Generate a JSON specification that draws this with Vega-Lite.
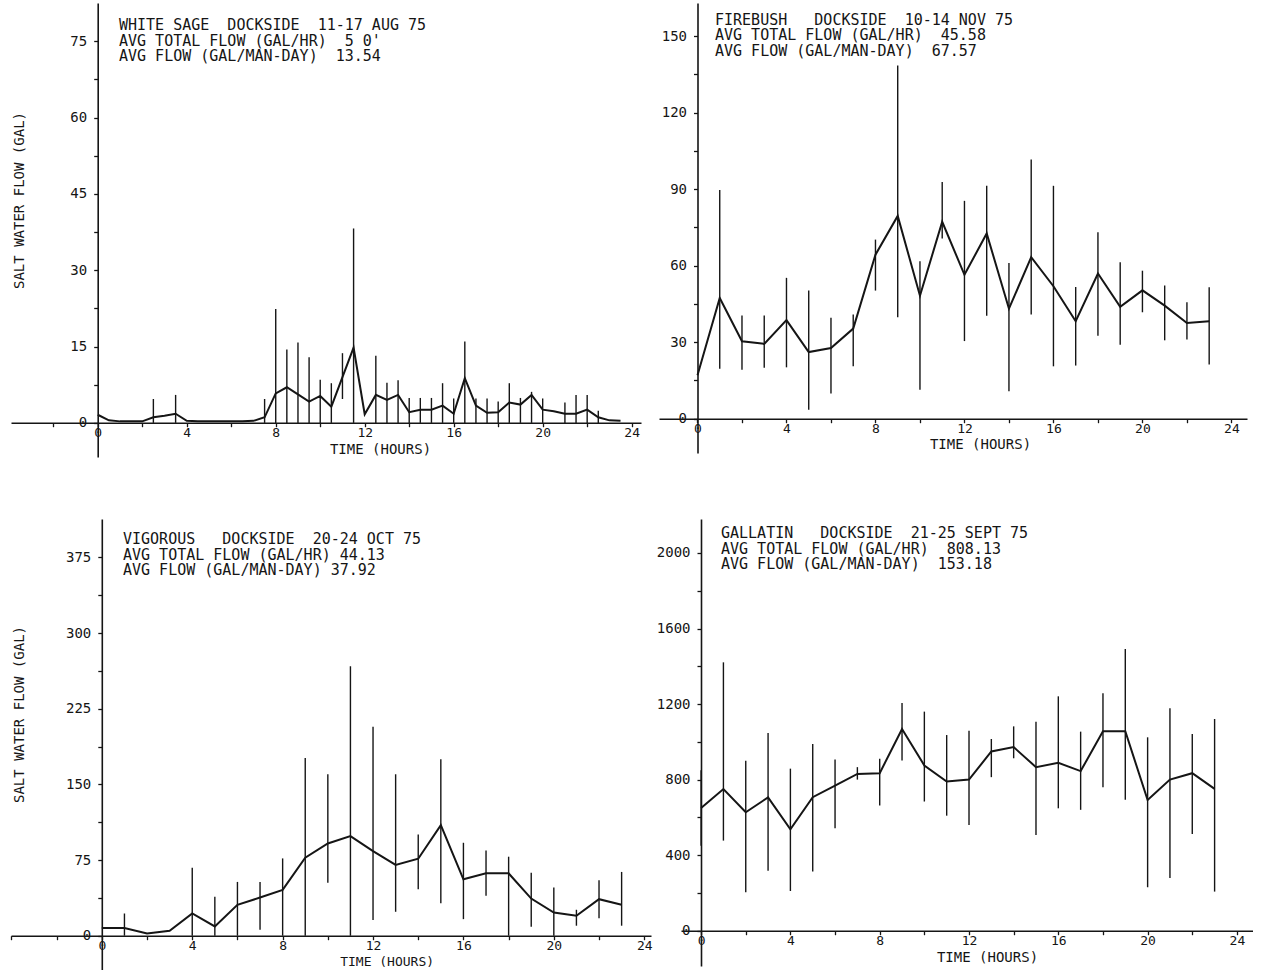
{
  "$schema": "https://vega.github.io/schema/vega-lite/v6.json",
  "padding": {"left": 10, "top": 3, "right": 0, "bottom": 0},
  "background": "white",
  "config": {
    "view": {"stroke": null},
    "font": "DejaVu Sans Mono",
    "axis": {
      "grid": false,
      "domainColor": "#151515",
      "domainWidth": 1.6,
      "tickColor": "#151515",
      "tickWidth": 1.3,
      "tickSize": 4,
      "labelFont": "DejaVu Sans Mono",
      "labelFontSize": 14,
      "labelPadding": 7,
      "labelColor": "#151515",
      "labelFlush": false,
      "labelOverlap": false,
      "labelBound": false,
      "titleFont": "DejaVu Sans Mono",
      "titleFontSize": 14,
      "titleFontWeight": "normal",
      "titleColor": "#151515"
    },
    "axisX": {"labelFontSize": 13, "labelPadding": 0},
    "title": {
      "font": "DejaVu Sans Mono",
      "fontSize": 15,
      "fontWeight": "normal",
      "color": "#151515",
      "anchor": "start",
      "frame": "group",
      "baseline": "top",
      "lineHeight": 15.5
    }
  },
  "datasets": {
    "whitesage": [
      {"hour": 0, "flow": 1.6, "lo": 1.6, "hi": 1.6},
      {"hour": 0.5, "flow": 0.5, "lo": 0.5, "hi": 0.5},
      {"hour": 1, "flow": 0.3, "lo": 0.3, "hi": 0.3},
      {"hour": 1.5, "flow": 0.3, "lo": 0.3, "hi": 0.3},
      {"hour": 2, "flow": 0.3, "lo": 0.3, "hi": 0.3},
      {"hour": 2.5, "flow": 1.1, "lo": 0, "hi": 4.7},
      {"hour": 3, "flow": 1.4, "lo": 1.4, "hi": 1.4},
      {"hour": 3.5, "flow": 1.8, "lo": 0, "hi": 5.5},
      {"hour": 4, "flow": 0.4, "lo": 0.4, "hi": 0.4},
      {"hour": 4.5, "flow": 0.3, "lo": 0.3, "hi": 0.3},
      {"hour": 5, "flow": 0.3, "lo": 0.3, "hi": 0.3},
      {"hour": 5.5, "flow": 0.3, "lo": 0.3, "hi": 0.3},
      {"hour": 6, "flow": 0.3, "lo": 0.3, "hi": 0.3},
      {"hour": 6.5, "flow": 0.3, "lo": 0.3, "hi": 0.3},
      {"hour": 7, "flow": 0.4, "lo": 0.4, "hi": 0.4},
      {"hour": 7.5, "flow": 1.1, "lo": 0, "hi": 4.7},
      {"hour": 8, "flow": 5.8, "lo": 0, "hi": 22.4},
      {"hour": 8.5, "flow": 7.0, "lo": 0, "hi": 14.4},
      {"hour": 9, "flow": 5.6, "lo": 0, "hi": 15.8},
      {"hour": 9.5, "flow": 4.2, "lo": 0, "hi": 12.9},
      {"hour": 10, "flow": 5.3, "lo": 0, "hi": 8.5},
      {"hour": 10.5, "flow": 3.2, "lo": 0, "hi": 7.8},
      {"hour": 11, "flow": 9.0, "lo": 4.7, "hi": 13.7},
      {"hour": 11.5, "flow": 14.8, "lo": 0, "hi": 38.2},
      {"hour": 12, "flow": 1.7, "lo": 1.7, "hi": 1.7},
      {"hour": 12.5, "flow": 5.5, "lo": 0, "hi": 13.2},
      {"hour": 13, "flow": 4.5, "lo": 0, "hi": 7.9},
      {"hour": 13.5, "flow": 5.5, "lo": 0, "hi": 8.4},
      {"hour": 14, "flow": 2.1, "lo": 0, "hi": 4.9},
      {"hour": 14.5, "flow": 2.6, "lo": 0, "hi": 4.9},
      {"hour": 15, "flow": 2.6, "lo": 0, "hi": 4.9},
      {"hour": 15.5, "flow": 3.4, "lo": 0, "hi": 7.8},
      {"hour": 16, "flow": 1.8, "lo": 0, "hi": 4.8},
      {"hour": 16.5, "flow": 8.8, "lo": 0, "hi": 16.0},
      {"hour": 17, "flow": 3.4, "lo": 0, "hi": 4.8},
      {"hour": 17.5, "flow": 2.0, "lo": 0, "hi": 4.8},
      {"hour": 18, "flow": 2.1, "lo": 0, "hi": 4.2},
      {"hour": 18.5, "flow": 4.0, "lo": 0, "hi": 7.8},
      {"hour": 19, "flow": 3.6, "lo": 0, "hi": 4.9},
      {"hour": 19.5, "flow": 5.5, "lo": 0, "hi": 6.1},
      {"hour": 20, "flow": 2.6, "lo": 0, "hi": 4.8},
      {"hour": 20.5, "flow": 2.3, "lo": 2.3, "hi": 2.3},
      {"hour": 21, "flow": 1.8, "lo": 0, "hi": 4.0},
      {"hour": 21.5, "flow": 1.8, "lo": 0, "hi": 5.5},
      {"hour": 22, "flow": 2.6, "lo": 0, "hi": 5.5},
      {"hour": 22.5, "flow": 1.1, "lo": 0, "hi": 2.4},
      {"hour": 23, "flow": 0.5, "lo": 0.5, "hi": 0.5},
      {"hour": 23.5, "flow": 0.4, "lo": 0.4, "hi": 0.4}
    ],
    "firebush": [
      {"hour": 0, "flow": 17, "lo": 17, "hi": 17},
      {"hour": 1, "flow": 47.3, "lo": 19.5, "hi": 89.7},
      {"hour": 2, "flow": 30.3, "lo": 19.2, "hi": 40.4},
      {"hour": 3, "flow": 29.3, "lo": 19.9, "hi": 40.4},
      {"hour": 4, "flow": 38.6, "lo": 20.1, "hi": 55.2},
      {"hour": 5, "flow": 26.1, "lo": 3.5, "hi": 50.2},
      {"hour": 6, "flow": 27.7, "lo": 9.8, "hi": 39.5},
      {"hour": 7, "flow": 35.3, "lo": 20.5, "hi": 40.8},
      {"hour": 8, "flow": 64.3, "lo": 50.2, "hi": 70.2},
      {"hour": 9, "flow": 79.5, "lo": 39.7, "hi": 138.5},
      {"hour": 10, "flow": 48.2, "lo": 11.3, "hi": 61.7},
      {"hour": 11, "flow": 77.2, "lo": 70.6, "hi": 92.8},
      {"hour": 12, "flow": 56.4, "lo": 30.4, "hi": 85.4},
      {"hour": 13, "flow": 72.6, "lo": 40.3, "hi": 91.3},
      {"hour": 14, "flow": 43.1, "lo": 10.7, "hi": 61.0},
      {"hour": 15, "flow": 63.3, "lo": 40.8, "hi": 101.6},
      {"hour": 16, "flow": 51.9, "lo": 20.5, "hi": 91.3},
      {"hour": 17, "flow": 38.2, "lo": 20.8, "hi": 51.6},
      {"hour": 18, "flow": 56.9, "lo": 32.5, "hi": 73.1},
      {"hour": 19, "flow": 43.8, "lo": 29.0, "hi": 61.3},
      {"hour": 20, "flow": 50.3, "lo": 41.7, "hi": 58.0},
      {"hour": 21, "flow": 44.3, "lo": 30.7, "hi": 52.2},
      {"hour": 22, "flow": 37.5, "lo": 31.0, "hi": 45.6},
      {"hour": 23, "flow": 38.2, "lo": 21.2, "hi": 51.5}
    ],
    "vigorous": [
      {"hour": 0, "flow": 7.6, "lo": 7.6, "hi": 7.6},
      {"hour": 1, "flow": 7.6, "lo": 0, "hi": 22},
      {"hour": 2, "flow": 2.3, "lo": 2.3, "hi": 2.3},
      {"hour": 3, "flow": 4.9, "lo": 4.9, "hi": 4.9},
      {"hour": 4, "flow": 22, "lo": 0, "hi": 67.4},
      {"hour": 5, "flow": 9.2, "lo": 0, "hi": 38.5},
      {"hour": 6, "flow": 30.6, "lo": 0, "hi": 53.3},
      {"hour": 7, "flow": 37.8, "lo": 5.9, "hi": 53.3},
      {"hour": 8, "flow": 45.4, "lo": 0, "hi": 76.6},
      {"hour": 9, "flow": 77.3, "lo": 0, "hi": 176},
      {"hour": 10, "flow": 91.4, "lo": 52.6, "hi": 160},
      {"hour": 11, "flow": 98.7, "lo": 0, "hi": 267},
      {"hour": 12, "flow": 83.9, "lo": 15.5, "hi": 207},
      {"hour": 13, "flow": 70.1, "lo": 23.7, "hi": 160},
      {"hour": 14, "flow": 76.3, "lo": 46, "hi": 100.3},
      {"hour": 15, "flow": 109.5, "lo": 32.2, "hi": 175},
      {"hour": 16, "flow": 55.9, "lo": 16.4, "hi": 92.1},
      {"hour": 17, "flow": 61.8, "lo": 39.5, "hi": 84.5},
      {"hour": 18, "flow": 61.8, "lo": 0, "hi": 78.3},
      {"hour": 19, "flow": 36.8, "lo": 8.9, "hi": 62.5},
      {"hour": 20, "flow": 23, "lo": 0, "hi": 47.7},
      {"hour": 21, "flow": 19.7, "lo": 9.9, "hi": 25.7},
      {"hour": 22, "flow": 36.2, "lo": 17.4, "hi": 54.9},
      {"hour": 23, "flow": 30.6, "lo": 9.9, "hi": 63.2}
    ],
    "gallatin": [
      {"hour": 0, "flow": 650, "lo": 450, "hi": 850},
      {"hour": 1, "flow": 750, "lo": 477, "hi": 1421},
      {"hour": 2, "flow": 627, "lo": 203, "hi": 900},
      {"hour": 3, "flow": 706, "lo": 318, "hi": 1047},
      {"hour": 4, "flow": 537, "lo": 210, "hi": 858},
      {"hour": 5, "flow": 707, "lo": 313, "hi": 989},
      {"hour": 6, "flow": 768, "lo": 542, "hi": 906},
      {"hour": 7, "flow": 830, "lo": 800, "hi": 866},
      {"hour": 8, "flow": 834, "lo": 663, "hi": 910},
      {"hour": 9, "flow": 1068, "lo": 901, "hi": 1206},
      {"hour": 10, "flow": 875, "lo": 684, "hi": 1160},
      {"hour": 11, "flow": 790, "lo": 609, "hi": 1036},
      {"hour": 12, "flow": 800, "lo": 560, "hi": 1059},
      {"hour": 13, "flow": 949, "lo": 813, "hi": 1015},
      {"hour": 14, "flow": 972, "lo": 913, "hi": 1082},
      {"hour": 15, "flow": 866, "lo": 507, "hi": 1107},
      {"hour": 16, "flow": 889, "lo": 648, "hi": 1241},
      {"hour": 17, "flow": 845, "lo": 640, "hi": 1054},
      {"hour": 18, "flow": 1056, "lo": 760, "hi": 1257},
      {"hour": 19, "flow": 1056, "lo": 694, "hi": 1492},
      {"hour": 20, "flow": 692, "lo": 230, "hi": 1024},
      {"hour": 21, "flow": 800, "lo": 279, "hi": 1178},
      {"hour": 22, "flow": 834, "lo": 512, "hi": 1042},
      {"hour": 23, "flow": 751, "lo": 207, "hi": 1121}
    ]
  },
  "spacing": 62,
  "vconcat": [
    {
      "spacing": 18,
      "bounds": "flush",
      "hconcat": [
        {
          "width": 630,
          "height": 454,
          "data": {"name": "whitesage"},
          "title": {
            "text": ["WHITE SAGE\u00a0 DOCKSIDE\u00a0 11-17 AUG 75", "AVG TOTAL FLOW (GAL/HR)\u00a0 5 0'", "AVG FLOW (GAL/MAN-DAY)\u00a0 13.54"],
            "offset": -61,
            "dx": 108
          },
          "encoding": {
            "x": {
              "field": "hour", "type": "quantitative",
              "scale": {"domain": [-3.9, 24.42], "nice": false, "zero": false},
              "axis": {
                "orient": "bottom", "offset": -34.3,
                "values": [-2, 0, 2, 4, 6, 8, 10, 12, 14, 16, 18, 20, 22, 24],
                "labelExpr": "datum.value >= 0 && datum.value % 4 === 0 ? datum.label : ''",
                "title": "TIME (HOURS)", "titleX": 369, "titleY": 27, "titleBaseline": "middle", "titleAlign": "center"
              }
            }
          },
          "layer": [
            {
              "mark": {"type": "rule", "color": "#151515", "strokeWidth": 1.4},
              "encoding": {
                "y": {
                  "field": "lo", "type": "quantitative",
                  "title": "SALT WATER FLOW (GAL)",
                  "scale": {"domain": [-6.7, 82.5], "nice": false, "zero": false},
                  "axis": {
                    "orient": "left", "offset": -86.7,
                    "values": [0, 7.5, 15, 22.5, 30, 37.5, 45, 52.5, 60, 67.5, 75],
                    "labelExpr": "datum.value % 15 === 0 ? datum.label : ''",
                    "titleX": -78.7, "titleY": 197, "titleAngle": -90, "titleAlign": "center", "titleBaseline": "middle"
                  }
                },
                "y2": {"field": "hi"}
              }
            },
            {
              "mark": {"type": "line", "color": "#151515", "strokeWidth": 2},
              "encoding": {
                "y": {"field": "flow", "type": "quantitative", "title": "SALT WATER FLOW (GAL)"}
              }
            }
          ]
        },
        {
          "width": 588,
          "height": 450,
          "data": {"name": "firebush"},
          "title": {
            "text": ["FIREBUSH\u00a0\u00a0 DOCKSIDE\u00a0 10-14 NOV 75", "AVG TOTAL FLOW (GAL/HR)\u00a0 45.58", "AVG FLOW (GAL/MAN-DAY)\u00a0 67.57"],
            "offset": -55.5,
            "dx": 56
          },
          "encoding": {
            "x": {
              "field": "hour", "type": "quantitative",
              "scale": {"domain": [-1.73, 24.7], "nice": false, "zero": false},
              "axis": {
                "orient": "bottom", "offset": -34.3,
                "values": [0, 2, 4, 6, 8, 10, 12, 14, 16, 18, 20, 22, 24],
                "labelExpr": "datum.value % 4 === 0 ? datum.label : ''",
                "title": "TIME (HOURS)", "titleX": 321, "titleY": 26, "titleBaseline": "middle", "titleAlign": "center"
              }
            }
          },
          "layer": [
            {
              "mark": {"type": "rule", "color": "#151515", "strokeWidth": 1.4},
              "encoding": {
                "y": {
                  "field": "lo", "type": "quantitative", "title": null,
                  "scale": {"domain": [-13.5, 163], "nice": false, "zero": false},
                  "axis": {
                    "orient": "left", "offset": -38.5,
                    "values": [0, 15, 30, 45, 60, 75, 90, 105, 120, 135, 150],
                    "labelExpr": "datum.value % 30 === 0 ? datum.label : ''"
                  }
                },
                "y2": {"field": "hi"}
              }
            },
            {
              "mark": {"type": "line", "color": "#151515", "strokeWidth": 2},
              "encoding": {
                "y": {"field": "flow", "type": "quantitative", "title": null}
              }
            }
          ]
        }
      ]
    },
    {
      "spacing": 30,
      "bounds": "flush",
      "hconcat": [
        {
          "width": 640,
          "height": 451,
          "data": {"name": "vigorous"},
          "title": {
            "text": ["VIGOROUS\u00a0\u00a0 DOCKSIDE\u00a0 20-24 OCT 75", "AVG TOTAL FLOW (GAL/HR) 44.13", "AVG FLOW (GAL/MAN-DAY) 37.92"],
            "offset": -59,
            "dx": 112
          },
          "encoding": {
            "x": {
              "field": "hour", "type": "quantitative",
              "scale": {"domain": [-4.02, 24.3], "nice": false, "zero": false},
              "axis": {
                "orient": "bottom", "offset": -34.3,
                "values": [-4, -2, 0, 2, 4, 6, 8, 10, 12, 14, 16, 18, 20, 22, 24],
                "labelExpr": "datum.value >= 0 && datum.value % 4 === 0 ? datum.label : ''",
                "title": "TIME (HOURS)", "titleX": 375.6, "titleY": 25.5, "titleBaseline": "middle", "titleAlign": "center", "titleFontSize": 13
              }
            }
          },
          "layer": [
            {
              "mark": {"type": "rule", "color": "#151515", "strokeWidth": 1.4},
              "encoding": {
                "y": {
                  "field": "lo", "type": "quantitative",
                  "title": "SALT WATER FLOW (GAL)",
                  "scale": {"domain": [-34, 413], "nice": false, "zero": false},
                  "axis": {
                    "orient": "left", "offset": -90.8,
                    "values": [0, 37.5, 75, 112.5, 150, 187.5, 225, 262.5, 300, 337.5, 375],
                    "labelExpr": "datum.value % 75 === 0 ? datum.label : ''",
                    "titleX": -82.8, "titleY": 195, "titleAngle": -90, "titleAlign": "center", "titleBaseline": "middle"
                  }
                },
                "y2": {"field": "hi"}
              }
            },
            {
              "mark": {"type": "line", "color": "#151515", "strokeWidth": 2},
              "encoding": {
                "y": {"field": "flow", "type": "quantitative", "title": "SALT WATER FLOW (GAL)"}
              }
            }
          ]
        },
        {
          "width": 572,
          "height": 447,
          "data": {"name": "gallatin"},
          "title": {
            "text": ["GALLATIN\u00a0\u00a0 DOCKSIDE\u00a0 21-25 SEPT 75", "AVG TOTAL FLOW (GAL/HR)\u00a0 808.13", "AVG FLOW (GAL/MAN-DAY)\u00a0 153.18"],
            "offset": -53,
            "dx": 40
          },
          "encoding": {
            "x": {
              "field": "hour", "type": "quantitative",
              "scale": {"domain": [-0.9, 24.72], "nice": false, "zero": false},
              "axis": {
                "orient": "bottom", "offset": -35.3,
                "values": [0, 2, 4, 6, 8, 10, 12, 14, 16, 18, 20, 22, 24],
                "labelExpr": "datum.value % 4 === 0 ? datum.label : ''",
                "title": "TIME (HOURS)", "titleX": 306, "titleY": 27, "titleBaseline": "middle", "titleAlign": "center"
              }
            }
          },
          "layer": [
            {
              "mark": {"type": "rule", "color": "#151515", "strokeWidth": 1.4},
              "encoding": {
                "y": {
                  "field": "lo", "type": "quantitative", "title": null,
                  "scale": {"domain": [-187, 2180], "nice": false, "zero": false},
                  "axis": {
                    "orient": "left", "offset": -20,
                    "values": [0, 200, 400, 600, 800, 1000, 1200, 1400, 1600, 1800, 2000],
                    "labelExpr": "datum.value % 400 === 0 ? format(datum.value, 'd') : ''"
                  }
                },
                "y2": {"field": "hi"}
              }
            },
            {
              "mark": {"type": "line", "color": "#151515", "strokeWidth": 2},
              "encoding": {
                "y": {"field": "flow", "type": "quantitative", "title": null}
              }
            }
          ]
        }
      ]
    }
  ]
}
